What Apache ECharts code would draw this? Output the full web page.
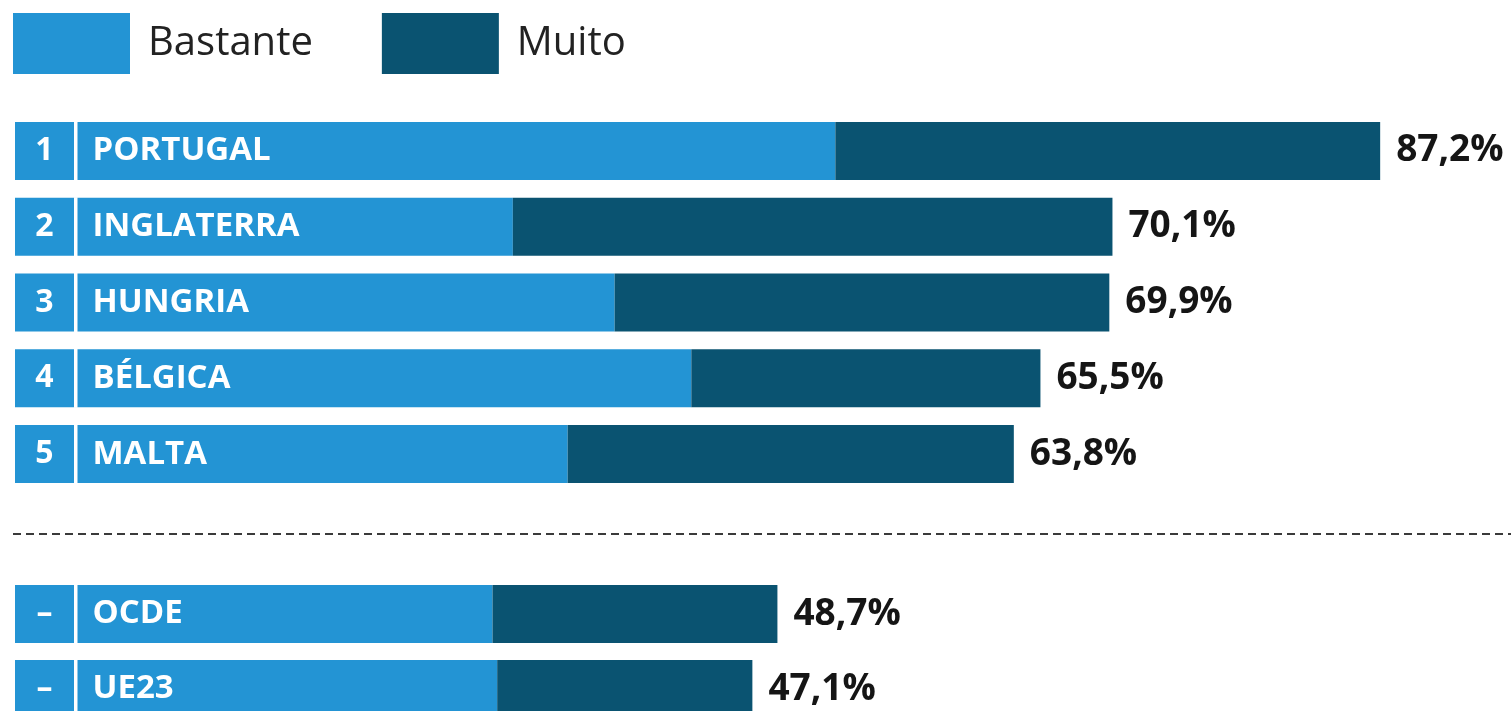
<!DOCTYPE html>
<html>
<head>
<meta charset="utf-8">
<script src="https://cdn.jsdelivr.net/npm/echarts@6/dist/echarts.min.js"></script>
<style>
html,body{margin:0;padding:0;background:#fff;}
#chart{width:1511px;height:711px;}
</style>
</head>
<body>
<div id="chart"></div>
<script>
const categoriesTop = ['PORTUGAL', 'INGLATERRA', 'HUNGRIA', 'BÉLGICA', 'MALTA'];
const ranksTop = ['1', '2', '3', '4', '5'];
const bastanteTop = [52.4, 31.8, 38.3, 43.2, 35.3];
const muitoTop = [34.8, 38.3, 31.6, 22.3, 28.5];
const totalTop = [87.2, 70.1, 69.9, 65.5, 63.8];

const categoriesBottom = ['OCDE', 'UE23'];
const ranksBottom = ['–', '–'];
const bastanteBottom = [30.5, 30.8];
const muitoBottom = [18.2, 16.3];
const totalBottom = [48.7, 47.1];

const seriesNames = ['Bastante', 'Muito'];

const LIGHT = '#2394D4';
const DARK = '#0A5371';
const FONT = "'Open Sans', 'Noto Sans', sans-serif";

function fmt(v) { return v.toFixed(1).replace('.', ',') + '%'; }

function nameLabel(ranks) {
  return {
    show: true,
    position: 'insideLeft',
    distance: 0,
    color: '#fff',
    textBorderWidth: 0,
    formatter: p => '{rank|' + ranks[p.dataIndex] + '}{sep| }{name|' + p.name + '}',
    rich: {
      rank: { width: 59, align: 'center', color: '#fff', fontSize: 32, fontWeight: 'bold', fontFamily: FONT },
      sep: { width: 3.5, height: 59, lineHeight: 59, backgroundColor: '#fff', fontSize: 10 },
      name: { color: '#fff', fontSize: 33, fontWeight: 'bold', fontFamily: FONT, padding: [0, 0, 0, 15] }
    }
  };
}

function totalLabel(totals) {
  return {
    show: true,
    position: 'right',
    distance: 16,
    color: '#151515',
    textBorderWidth: 0,
    fontSize: 37,
    fontWeight: 'bold',
    fontFamily: FONT,
    formatter: p => fmt(totals[p.dataIndex])
  };
}

const BAR_W = 58;

const option = {
  backgroundColor: '#fff',
  animation: false,
  legend: {
    data: seriesNames,
    left: 13,
    top: 13,
    padding: 0,
    itemWidth: 117,
    itemHeight: 61,
    itemGap: 69,
    icon: 'rect',
    selectedMode: false,
    textStyle: { fontSize: 40, fontFamily: FONT, color: '#222', padding: [0, 0, 0, 13] }
  },
  grid: [
    { left: 15, right: 87, top: 113, height: 379, outerBoundsMode: 'none', containLabel: false },
    { left: 15, right: 87, top: 576.5, height: 150, outerBoundsMode: 'none', containLabel: false }
  ],
  xAxis: [
    { gridIndex: 0, type: 'value', min: 0, max: 90, show: false },
    { gridIndex: 1, type: 'value', min: 0, max: 90, show: false }
  ],
  yAxis: [
    { gridIndex: 0, type: 'category', data: categoriesTop, inverse: true, show: false },
    { gridIndex: 1, type: 'category', data: categoriesBottom, inverse: true, show: false }
  ],
  graphic: [
    { type: 'line', shape: { x1: 13, y1: 534, x2: 1511, y2: 534 },
      style: { stroke: '#3a3a3a', lineWidth: 2, lineDash: [8, 5] }, silent: true }
  ],
  series: [
    { name: seriesNames[0], type: 'bar', stack: 'top', xAxisIndex: 0, yAxisIndex: 0,
      barWidth: BAR_W, itemStyle: { color: LIGHT }, data: bastanteTop, label: nameLabel(ranksTop), z: 2 },
    { name: seriesNames[1], type: 'bar', stack: 'top', xAxisIndex: 0, yAxisIndex: 0,
      barWidth: BAR_W, itemStyle: { color: DARK }, data: muitoTop, label: totalLabel(totalTop) },
    { name: seriesNames[0], type: 'bar', stack: 'bottom', xAxisIndex: 1, yAxisIndex: 1,
      barWidth: BAR_W, itemStyle: { color: LIGHT }, data: bastanteBottom, label: nameLabel(ranksBottom), z: 2 },
    { name: seriesNames[1], type: 'bar', stack: 'bottom', xAxisIndex: 1, yAxisIndex: 1,
      barWidth: BAR_W, itemStyle: { color: DARK }, data: muitoBottom, label: totalLabel(totalBottom) }
  ]
};

const chart = echarts.init(document.getElementById('chart'), null, { renderer: 'canvas' });
chart.setOption(option);
</script>
</body>
</html>
